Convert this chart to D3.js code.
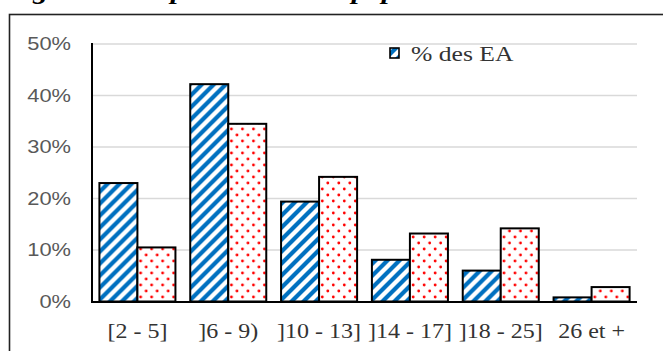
<!DOCTYPE html>
<html>
<head>
<meta charset="utf-8">
<script src="https://cdn.jsdelivr.net/npm/d3@7"></script>
<style>
  html, body { margin: 0; padding: 0; background: #fff; }
  svg { display: block; }
</style>
</head>
<body>
<svg id="chart" width="663" height="351"></svg>
<script>
// ---- data ----
const categories = ["[2 - 5]", "]6 - 9)", "]10 - 13]", "]14 - 17]", "]18 - 25]", "26 et +"];
const seriesNames = ["% des EA", "% de la population"];
const eaValues = [23.0, 42.2, 19.4, 8.1, 6.0, 0.8];
const popValues = [10.5, 34.5, 24.2, 13.2, 14.2, 2.8];
const yTicks = [0, 10, 20, 30, 40, 50];
const titleText = "Figure 3 : Répartition de la population et des EA selon la taille";

const svg = d3.select("#chart");
const defs = svg.append("defs");

// hatch pattern (blue diagonal)
const hatch = defs.append("pattern").attr("id", "hatch")
  .attr("patternUnits", "userSpaceOnUse").attr("width", 12).attr("height", 12);
hatch.append("rect").attr("width", 12).attr("height", 12).attr("fill", "#fff");
hatch.append("path").attr("d", "M-3,3 L3,-3 M0,12 L12,0 M9,15 L15,9")
  .attr("stroke", "#0070C0").attr("stroke-width", 4.2);

// dotted pattern (red dots)
const dots = defs.append("pattern").attr("id", "dots")
  .attr("patternUnits", "userSpaceOnUse").attr("width", 11).attr("height", 12);
dots.append("rect").attr("width", 11).attr("height", 12).attr("fill", "#fff");
dots.append("circle").attr("cx", 2.75).attr("cy", 3).attr("r", 1.4).attr("fill", "#FF0000");
dots.append("circle").attr("cx", 8.25).attr("cy", 9).attr("r", 1.4).attr("fill", "#FF0000");

const fills = ["url(#hatch)", "url(#dots)"];

// title (cut at top, only descenders visible as in reference)
svg.append("text")
  .attr("transform", "translate(5,-1) scale(1.2,1)")
  .attr("font-family", "'Liberation Serif', 'Times New Roman', serif")
  .attr("font-size", 25).attr("font-weight", "bold").attr("font-style", "italic")
  .attr("fill", "#000").text(titleText);

// frame
svg.append("rect").attr("x", 9.5).attr("y", 14.5).attr("width", 700).attr("height", 400)
  .attr("fill", "none").attr("stroke", "#222").attr("stroke-width", 1.6);

// scales
const plotLeft = 92, plotRight = 637, plotTop = 44, plotBottom = 301.5;
const y = d3.scaleLinear().domain([0, 50]).range([plotBottom, plotTop]);
const x0 = d3.scaleBand().domain(categories).range([plotLeft, plotRight])
  .paddingInner(0.163).paddingOuter(0.0815);
const x1 = d3.scaleBand().domain(seriesNames).range([0, x0.bandwidth()]);

// gridlines
svg.append("g").selectAll("line").data(yTicks.filter(t => t > 0)).join("line")
  .attr("x1", plotLeft).attr("x2", plotRight)
  .attr("y1", d => y(d)).attr("y2", d => y(d))
  .attr("stroke", "#d9d9d9").attr("stroke-width", 1.5);

// y tick labels
svg.append("g").selectAll("text").data(yTicks).join("text")
  .attr("transform", d => `translate(71,${y(d) + 6}) scale(1.25,1)`)
  .attr("text-anchor", "end")
  .attr("font-family", "'Liberation Sans', Arial, sans-serif")
  .attr("font-size", 17.5)
  .attr("fill", "#595959")
  .text(d => d + "%");

// bars
const rows = categories.map((c, i) => ({ cat: c, vals: [eaValues[i], popValues[i]] }));
const groups = svg.append("g").selectAll("g").data(rows).join("g")
  .attr("transform", d => `translate(${x0(d.cat)},0)`);
groups.selectAll("rect").data(d => d.vals.map((v, j) => ({ name: seriesNames[j], v, j })))
  .join("rect")
  .attr("x", d => x1(d.name))
  .attr("y", d => y(d.v))
  .attr("width", x1.bandwidth())
  .attr("height", d => y(0) - y(d.v))
  .attr("fill", d => fills[d.j])
  .attr("stroke", "#000").attr("stroke-width", 2);

// axes lines
svg.append("line").attr("x1", plotLeft).attr("x2", plotLeft).attr("y1", plotTop - 1).attr("y2", plotBottom + 1)
  .attr("stroke", "#000").attr("stroke-width", 2);
svg.append("line").attr("x1", plotLeft - 1).attr("x2", plotRight).attr("y1", plotBottom + 0.5).attr("y2", plotBottom + 0.5)
  .attr("stroke", "#000").attr("stroke-width", 2);

// category labels
svg.append("g").selectAll("text").data(categories).join("text")
  .attr("transform", d => `translate(${x0(d) + x0.bandwidth() / 2},338) scale(1.2,1)`)
  .attr("text-anchor", "middle")
  .attr("font-family", "'Liberation Serif', 'Times New Roman', serif")
  .attr("font-size", 20)
  .attr("fill", "#333")
  .text(d => d);

// legend
const lg = svg.append("g");
lg.append("rect").attr("x", 390).attr("y", 48).attr("width", 9).attr("height", 10)
  .attr("fill", fills[0]).attr("stroke", "#000").attr("stroke-width", 1.6);
lg.append("text")
  .attr("transform", "translate(411,61) scale(1.22,1)")
  .attr("font-family", "'Liberation Serif', 'Times New Roman', serif")
  .attr("font-size", 21)
  .attr("fill", "#333")
  .text(seriesNames[0]);
</script>
</body>
</html>
